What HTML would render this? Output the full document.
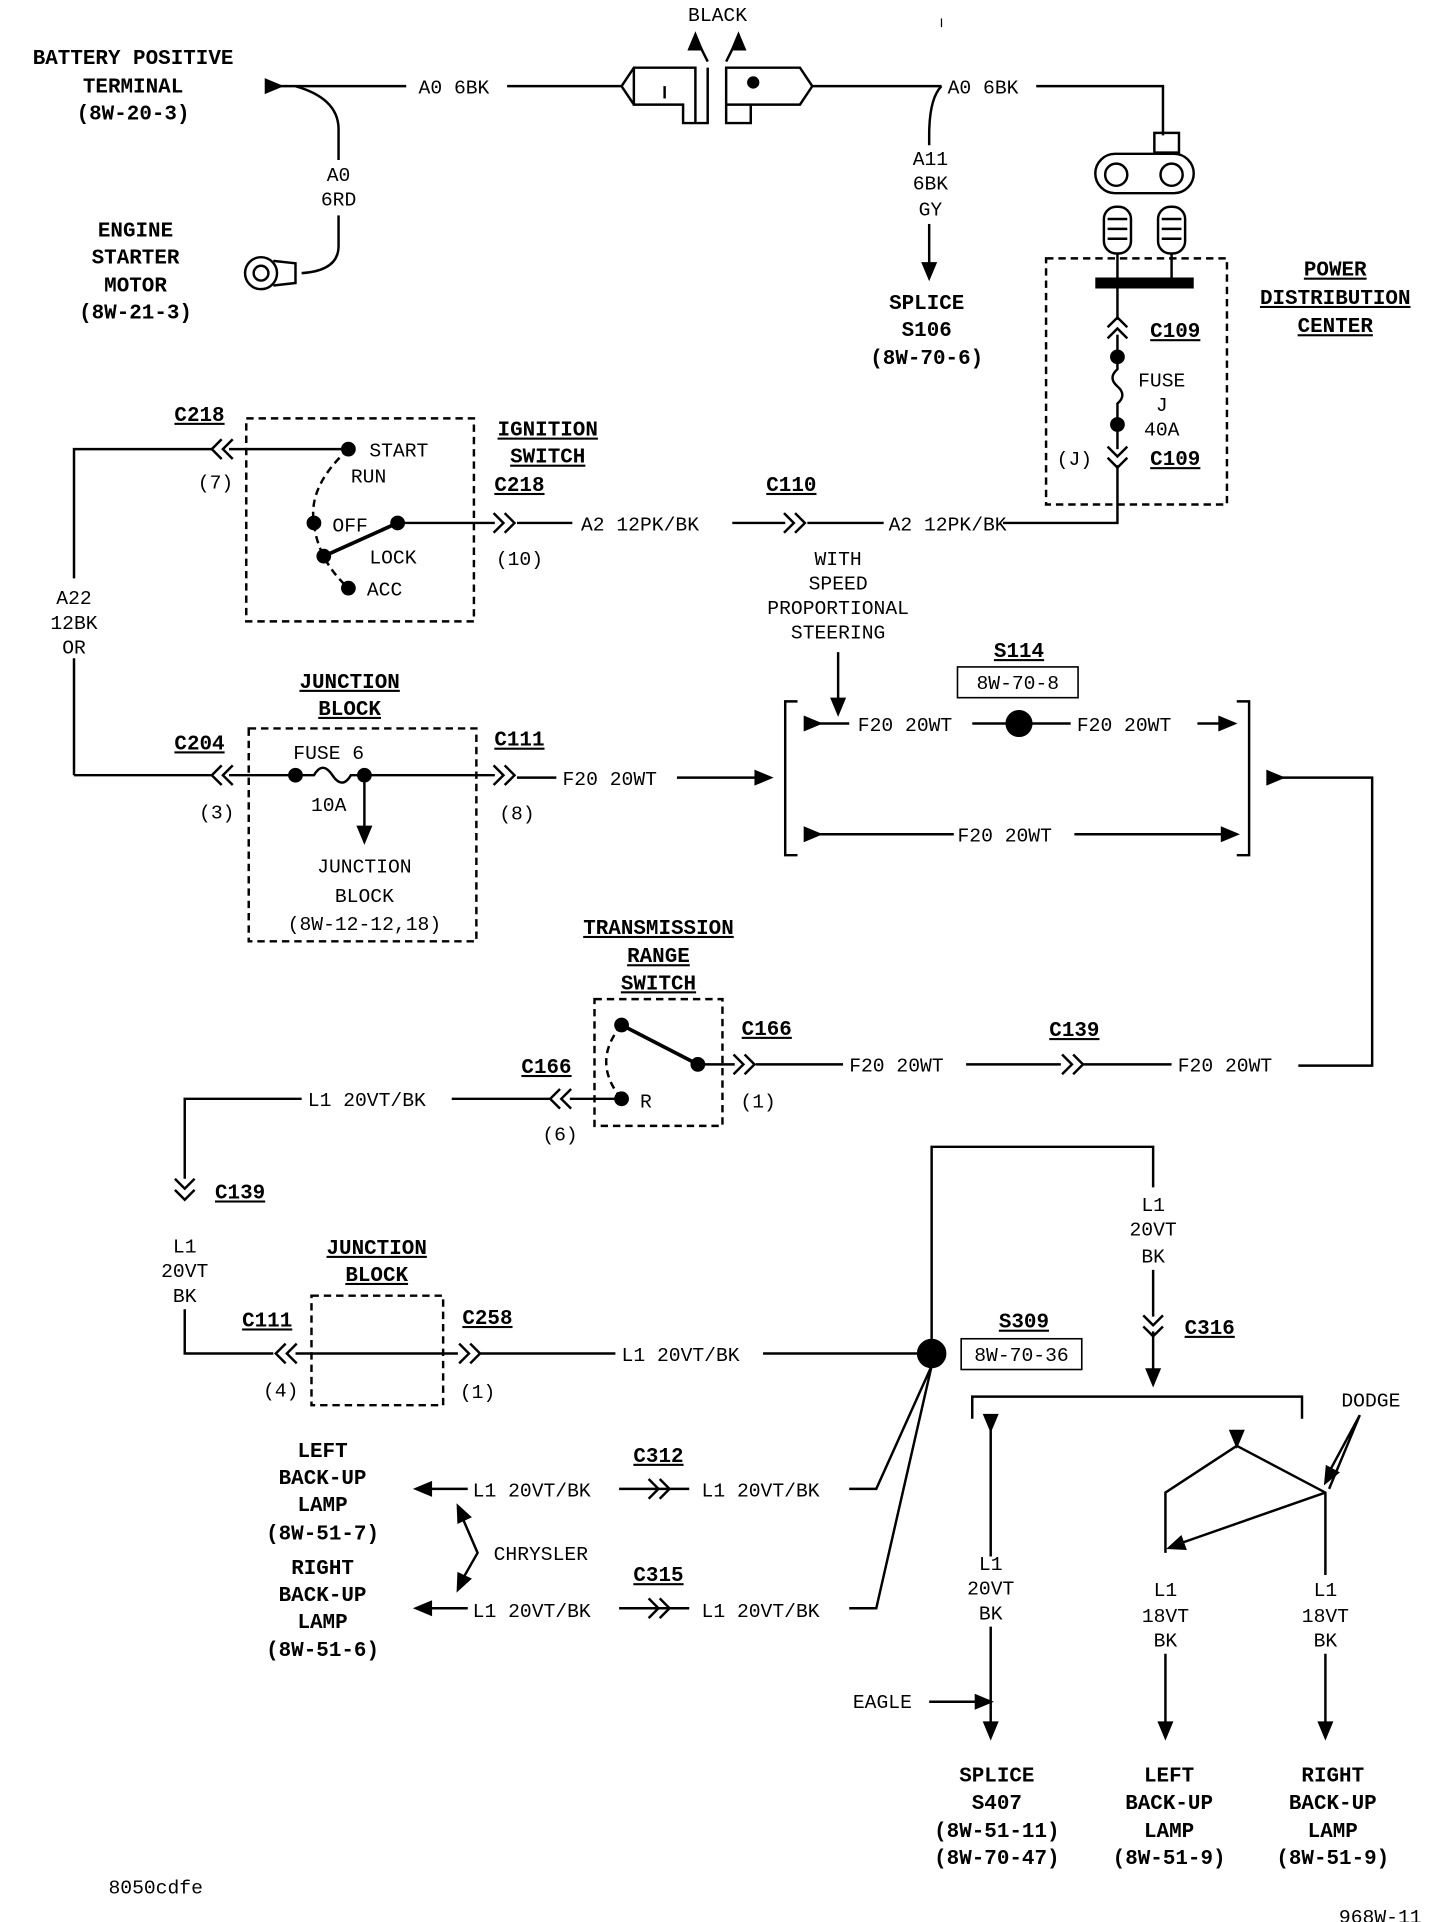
<!DOCTYPE html>
<html><head><meta charset="utf-8"><style>
html,body{margin:0;padding:0;background:#fff}
svg{display:block}
text{font-family:"Liberation Mono",monospace;font-size:16px;fill:#000}
.b{font-weight:bold;font-size:17px;text-anchor:middle}
.u{text-decoration:underline}
.m{text-anchor:middle}
line,path,polyline,rect,circle{stroke:#000;stroke-width:2;fill:none}
.d{stroke-dasharray:6 4}
.f{fill:#000}
</style></head><body>
<svg width="1440" height="1922" viewBox="0 0 1170 1562" xmlns="http://www.w3.org/2000/svg">
<defs>
<g id="chr"><path d="M-9,-8 L-1,0 L-9,8 M0,-8 L8,0 L0,8"/></g>
<g id="ah"><path class="f" d="M0,0 L-12,-5 L-12,5 Z"/></g>
</defs>

<!-- top -->
<text class="b" x="108" y="52">BATTERY POSITIVE</text>
<text class="b" x="108" y="75">TERMINAL</text>
<text class="b" x="108" y="97">(8W-20-3)</text>
<use href="#ah" transform="translate(228,70) rotate(180) scale(-1,1)"/>
<polyline points="226,70 330,70"/>
<text x="340" y="76">A0 6BK</text>
<line x1="412" y1="70" x2="505" y2="70"/>
<path d="M240,70 Q275,80 275,105 L275,130"/>
<text class="m" x="275" y="147">A0</text>
<text class="m" x="275" y="167">6RD</text>
<path d="M275,175 L275,200 Q275,220 245,222"/>
<circle cx="212" cy="222" r="13"/><circle cx="212" cy="222" r="6"/>
<path d="M222,212 L240,214 L240,230 L222,232"/>
<text class="b" x="110" y="192">ENGINE</text>
<text class="b" x="110" y="214">STARTER</text>
<text class="b" x="110" y="237">MOTOR</text>
<text class="b" x="110" y="259">(8W-21-3)</text>

<text class="m" x="583" y="17">BLACK</text>
<path d="M575,50 L565,30 M590,50 L600,30"/>
<path class="f" d="M565,28 L560,40 L570,40Z M600,28 L595,40 L605,40Z"/>
<path d="M505,70 L515,55 L565,55 L565,100 L575,100 L575,55 M515,55 L515,85 L555,85 L555,100 L565,100 M515,85 L505,70"/>
<path d="M590,55 L650,55 L660,70 L650,85 L590,85 Z M590,85 L590,100 L610,100 L610,85"/>
<circle class="f" cx="612" cy="67" r="4"/>
<line x1="540" y1="70" x2="540" y2="80"/>
<line x1="660" y1="70" x2="765" y2="70"/>
<text x="770" y="76">A0 6BK</text>
<path d="M842,70 L945,70 L945,110"/>
<rect x="938" y="108" width="20" height="16"/>
<rect x="890" y="125" width="80" height="32" rx="16"/>
<circle cx="907" cy="142" r="9"/><circle cx="952" cy="142" r="9"/>
<path d="M765,70 Q755,80 755,110 L755,118"/>
<text class="m" x="756" y="134">A11</text>
<text class="m" x="756" y="154">6BK</text>
<text class="m" x="756" y="175">GY</text>
<line x1="755" y1="182" x2="755" y2="222"/>
<use href="#ah" transform="translate(755,226) rotate(90)"/>
<text class="b" x="753" y="251">SPLICE</text>
<text class="b" x="753" y="273">S106</text>
<text class="b" x="753" y="296">(8W-70-6)</text>

<rect x="897" y="168" width="22" height="38" rx="10"/>
<rect x="941" y="168" width="22" height="38" rx="10"/>
<path d="M900,178 H916 M900,186 H916 M900,194 H916 M944,178 H960 M944,186 H960 M944,194 H960"/>
<line x1="908" y1="206" x2="908" y2="228"/><line x1="952" y1="206" x2="952" y2="228"/>
<rect class="d" x="850" y="210" width="147" height="200"/>
<line x1="890" y1="230" x2="970" y2="230" style="stroke-width:9"/>
<line x1="908" y1="230" x2="908" y2="260"/>
<use href="#chr" transform="translate(908,266) rotate(-90)"/>
<text class="b u" x="955" y="274">C109</text>
<line x1="908" y1="272" x2="908" y2="288"/>
<circle class="f" cx="908" cy="290" r="5"/>
<path d="M908,290 L908,300 Q900,307 908,314 Q916,321 908,328 L908,345"/>
<circle class="f" cx="908" cy="345" r="5"/>
<text class="m" x="944" y="314">FUSE</text>
<text class="m" x="944" y="334">J</text>
<text class="m" x="944" y="354">40A</text>
<line x1="908" y1="345" x2="908" y2="365"/>
<use href="#chr" transform="translate(908,372) rotate(90)"/>
<text class="m" x="873" y="378">(J)</text>
<text class="b u" x="955" y="378">C109</text>
<path d="M908,378 L908,425 L815,425"/>
<text class="b u" x="1085" y="224">POWER</text>
<text class="b u" x="1085" y="247">DISTRIBUTION</text>
<text class="b u" x="1085" y="270">CENTER</text>

<!-- ignition -->
<rect class="d" x="200" y="340" width="185" height="165"/>
<text class="b u" x="162" y="342">C218</text>
<use href="#chr" transform="translate(180,365) rotate(180)"/>
<text class="m" x="175" y="397">(7)</text>
<path d="M60,630 L60,535 M60,470 L60,365 L172,365"/>
<line x1="186" y1="365" x2="283" y2="365"/>
<circle class="f" cx="283" cy="365" r="5"/>
<text x="300" y="371">START</text>
<text x="285" y="392">RUN</text>
<path class="d" d="M283,365 Q250,395 255,425 Q258,455 283,478"/>
<circle class="f" cx="255" cy="425" r="5"/>
<text x="270" y="432">OFF</text>
<circle class="f" cx="323" cy="425" r="5"/>
<line x1="323" y1="425" x2="263" y2="452" style="stroke-width:3"/>
<circle class="f" cx="263" cy="452" r="5"/>
<text x="300" y="458">LOCK</text>
<circle class="f" cx="283" cy="478" r="5"/>
<text x="298" y="484">ACC</text>
<line x1="323" y1="425" x2="402" y2="425"/>
<use href="#chr" transform="translate(410,425)"/>
<text class="b u" x="422" y="399">C218</text>
<text class="m" x="422" y="459">(10)</text>
<text class="b u" x="445" y="354">IGNITION</text>
<text class="b u" x="445" y="376">SWITCH</text>
<line x1="420" y1="425" x2="465" y2="425"/>
<text x="472" y="431">A2 12PK/BK</text>
<line x1="595" y1="425" x2="638" y2="425"/>
<use href="#chr" transform="translate(646,425)"/>
<text class="b u" x="643" y="399">C110</text>
<line x1="656" y1="425" x2="718" y2="425"/>
<text x="722" y="431">A2 12PK/BK</text>
<text class="m" x="681" y="459">WITH</text>
<text class="m" x="681" y="479">SPEED</text>
<text class="m" x="681" y="499">PROPORTIONAL</text>
<text class="m" x="681" y="519">STEERING</text>
<line x1="681" y1="530" x2="681" y2="574"/>
<use href="#ah" transform="translate(681,580) rotate(90)"/>
<text class="m" x="60" y="491">A22</text>
<text class="m" x="60" y="511">12BK</text>
<text class="m" x="60" y="531">OR</text>

<!-- junction block 1 -->
<text class="b u" x="284" y="559">JUNCTION</text>
<text class="b u" x="284" y="581">BLOCK</text>
<rect class="d" x="202" y="592" width="185" height="173"/>
<text class="b u" x="162" y="609">C204</text>
<use href="#chr" transform="translate(180,630) rotate(180)"/>
<text class="m" x="176" y="665">(3)</text>
<line x1="60" y1="630" x2="172" y2="630"/>
<line x1="186" y1="630" x2="240" y2="630"/>
<circle class="f" cx="240" cy="630" r="5"/>
<path d="M240,630 L255,630 Q262,618 270,630 Q278,642 285,630 L296,630"/>
<circle class="f" cx="296" cy="630" r="5"/>
<text class="m" x="267" y="617">FUSE 6</text>
<text class="m" x="267" y="659">10A</text>
<line x1="296" y1="630" x2="296" y2="678"/>
<use href="#ah" transform="translate(296,684) rotate(90)"/>
<text class="m" x="296" y="709">JUNCTION</text>
<text class="m" x="296" y="733">BLOCK</text>
<text class="m" x="296" y="756">(8W-12-12,18)</text>
<line x1="296" y1="630" x2="402" y2="630"/>
<use href="#chr" transform="translate(410,630)"/>
<text class="b u" x="422" y="606">C111</text>
<text class="m" x="420" y="666">(8)</text>
<line x1="420" y1="632" x2="452" y2="632"/>
<text x="457" y="638">F20 20WT</text>
<line x1="550" y1="632" x2="615" y2="632"/>
<use href="#ah" transform="translate(626,632)"/>

<!-- S114 -->
<text class="b u" x="828" y="534">S114</text>
<rect x="778" y="542" width="98" height="25" style="stroke-width:1.3"/>
<text class="m" x="827" y="560">8W-70-8</text>
<path d="M648,570 L638,570 L638,695 L648,695 M1005,570 L1015,570 L1015,695 L1005,695"/>
<use href="#ah" transform="translate(666,588)"/>
<line x1="654" y1="588" x2="690" y2="588"/>
<text x="697" y="594">F20 20WT</text>
<line x1="790" y1="588" x2="818" y2="588"/>
<circle class="f" cx="828" cy="588" r="10"/>
<line x1="838" y1="588" x2="870" y2="588"/>
<text x="875" y="594">F20 20WT</text>
<line x1="973" y1="588" x2="995" y2="588"/>
<use href="#ah" transform="translate(1003,588)"/>
<use href="#ah" transform="translate(666,678)"/>
<line x1="654" y1="678" x2="775" y2="678"/>
<text x="778" y="684">F20 20WT</text>
<line x1="873" y1="678" x2="995" y2="678"/>
<use href="#ah" transform="translate(1005,678)"/>
<use href="#ah" transform="translate(1042,632)"/>
<path d="M1030,632 L1115,632 L1115,866 L1055,866"/>

<!-- transmission -->
<text class="b u" x="535" y="759">TRANSMISSION</text>
<text class="b u" x="535" y="782">RANGE</text>
<text class="b u" x="535" y="804">SWITCH</text>
<rect class="d" x="483" y="812" width="104" height="103"/>
<circle class="f" cx="505" cy="833" r="5"/>
<line x1="505" y1="833" x2="567" y2="865" style="stroke-width:3"/>
<circle class="f" cx="567" cy="865" r="5"/>
<circle class="f" cx="505" cy="893" r="5"/>
<text x="520" y="900">R</text>
<path class="d" d="M505,833 Q480,863 505,893"/>
<line x1="567" y1="865" x2="597" y2="865"/>
<use href="#chr" transform="translate(605,865)"/>
<text class="b u" x="623" y="841">C166</text>
<text class="m" x="616" y="900">(1)</text>
<line x1="614" y1="865" x2="685" y2="865"/>
<text x="690" y="871">F20 20WT</text>
<line x1="785" y1="865" x2="862" y2="865"/>
<use href="#chr" transform="translate(872,865)"/>
<text class="b u" x="873" y="842">C139</text>
<line x1="880" y1="865" x2="952" y2="865"/>
<text x="957" y="871">F20 20WT</text>
<use href="#chr" transform="translate(455,893) rotate(180)"/>
<text class="b u" x="444" y="872">C166</text>
<text class="m" x="455" y="927">(6)</text>
<line x1="505" y1="893" x2="463" y2="893"/>
<line x1="447" y1="893" x2="367" y2="893"/>
<text x="250" y="899">L1 20VT/BK</text>
<path d="M245,893 L150,893 L150,958"/>
<use href="#chr" transform="translate(150,967) rotate(90)"/>
<text class="b u" x="195" y="974">C139</text>
<text class="m" x="150" y="1018">L1</text>
<text class="m" x="150" y="1038">20VT</text>
<text class="m" x="150" y="1058">BK</text>
<path d="M150,1064 L150,1100 L222,1100"/>
<use href="#chr" transform="translate(232,1100) rotate(180)"/>
<text class="b u" x="217" y="1078">C111</text>
<text class="m" x="228" y="1135">(4)</text>
<rect class="d" x="253" y="1053" width="107" height="89"/>
<text class="b u" x="306" y="1019">JUNCTION</text>
<text class="b u" x="306" y="1041">BLOCK</text>
<line x1="240" y1="1100" x2="372" y2="1100"/>
<use href="#chr" transform="translate(382,1100)"/>
<text class="b u" x="396" y="1076">C258</text>
<text class="m" x="388" y="1136">(1)</text>
<line x1="390" y1="1100" x2="500" y2="1100"/>
<text x="505" y="1106">L1 20VT/BK</text>
<line x1="620" y1="1100" x2="746" y2="1100"/>
<circle class="f" cx="757" cy="1100" r="11"/>
<text class="b u" x="832" y="1079">S309</text>
<rect x="781" y="1088" width="98" height="25" style="stroke-width:1.3"/>
<text class="m" x="830" y="1106">8W-70-36</text>
<path d="M757,1090 L757,932 L937,932 L937,965"/>
<text class="m" x="937" y="984">L1</text>
<text class="m" x="937" y="1004">20VT</text>
<text class="m" x="937" y="1026">BK</text>
<line x1="937" y1="1032" x2="937" y2="1070"/>
<use href="#chr" transform="translate(937,1078) rotate(90)"/>
<text class="b u" x="983" y="1084">C316</text>
<line x1="937" y1="1082" x2="937" y2="1118"/>
<use href="#ah" transform="translate(937,1125) rotate(90)"/>
<path d="M790,1153 L790,1135 L1058,1135 L1058,1153"/>
<use href="#ah" transform="translate(805,1162) rotate(90)"/>
<line x1="805" y1="1162" x2="805" y2="1265"/>
<text class="m" x="805" y="1276">L1</text>
<text class="m" x="805" y="1296">20VT</text>
<text class="m" x="805" y="1316">BK</text>
<line x1="805" y1="1322" x2="805" y2="1405"/>
<use href="#ah" transform="translate(805,1412) rotate(90)"/>
<text x="693" y="1388">EAGLE</text>
<line x1="755" y1="1383" x2="795" y2="1383"/>
<use href="#ah" transform="translate(805,1383)"/>
<text class="b" x="810" y="1448">SPLICE</text>
<text class="b" x="810" y="1470">S407</text>
<text class="b" x="810" y="1493">(8W-51-11)</text>
<text class="b" x="810" y="1515">(8W-70-47)</text>

<use href="#ah" transform="translate(1005,1175) rotate(90)"/>
<path d="M1005,1175 L947,1213 L947,1262 M1005,1175 L1077,1213 L1077,1280 M1077,1213 L957,1255"/>
<use href="#ah" transform="translate(950,1258) rotate(160)"/>
<text x="1090" y="1143">DODGE</text>
<path d="M1105,1150 L1078,1200 M1105,1150 L1080,1210"/>
<use href="#ah" transform="translate(1077,1205) rotate(118)"/>
<text class="m" x="947" y="1297">L1</text>
<text class="m" x="947" y="1318">18VT</text>
<text class="m" x="947" y="1338">BK</text>
<line x1="947" y1="1344" x2="947" y2="1405"/>
<use href="#ah" transform="translate(947,1412) rotate(90)"/>
<text class="m" x="1077" y="1297">L1</text>
<text class="m" x="1077" y="1318">18VT</text>
<text class="m" x="1077" y="1338">BK</text>
<line x1="1077" y1="1344" x2="1077" y2="1405"/>
<use href="#ah" transform="translate(1077,1412) rotate(90)"/>
<text class="b" x="950" y="1448">LEFT</text>
<text class="b" x="950" y="1470">BACK-UP</text>
<text class="b" x="950" y="1493">LAMP</text>
<text class="b" x="950" y="1515">(8W-51-9)</text>
<text class="b" x="1083" y="1448">RIGHT</text>
<text class="b" x="1083" y="1470">BACK-UP</text>
<text class="b" x="1083" y="1493">LAMP</text>
<text class="b" x="1083" y="1515">(8W-51-9)</text>

<!-- chrysler -->
<path d="M757,1110 L712,1210 L690,1210 M757,1110 L712,1307 L690,1307"/>
<text x="570" y="1216">L1 20VT/BK</text>
<text x="570" y="1314">L1 20VT/BK</text>
<line x1="503" y1="1210" x2="560" y2="1210"/>
<use href="#chr" transform="translate(536,1210)"/>
<line x1="503" y1="1307" x2="560" y2="1307"/>
<use href="#chr" transform="translate(536,1307)"/>
<text class="b u" x="535" y="1188">C312</text>
<text class="b u" x="535" y="1285">C315</text>
<text x="384" y="1216">L1 20VT/BK</text>
<text x="384" y="1314">L1 20VT/BK</text>
<line x1="340" y1="1210" x2="380" y2="1210"/>
<line x1="340" y1="1307" x2="380" y2="1307"/>
<use href="#ah" transform="translate(338,1210) rotate(180)"/>
<use href="#ah" transform="translate(338,1307) rotate(180)"/>
<path d="M372,1225 L388,1262 L372,1290"/>
<use href="#ah" transform="translate(372,1224) rotate(-115)"/>
<use href="#ah" transform="translate(372,1292) rotate(115)"/>
<text x="401" y="1268">CHRYSLER</text>
<text class="b" x="262" y="1184">LEFT</text>
<text class="b" x="262" y="1206">BACK-UP</text>
<text class="b" x="262" y="1228">LAMP</text>
<text class="b" x="262" y="1251">(8W-51-7)</text>
<text class="b" x="262" y="1279">RIGHT</text>
<text class="b" x="262" y="1301">BACK-UP</text>
<text class="b" x="262" y="1323">LAMP</text>
<text class="b" x="262" y="1346">(8W-51-6)</text>

<text x="88" y="1539">8050cdfe</text>
<text x="1088" y="1563">968W-11</text>
<line x1="765" y1="15" x2="765" y2="22" style="stroke-width:1"/>
</svg>
</body></html>
